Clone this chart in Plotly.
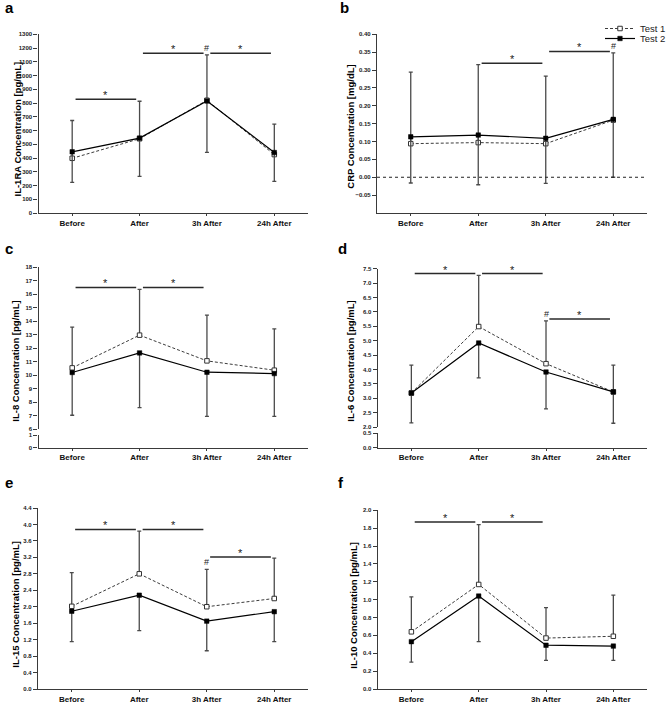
import plotly.graph_objects as go

# ---------------- data ----------------
categories = ["Before", "After", "3h After", "24h After"]

# a: IL-1RA [pg/mL]
il1ra_t1 = [398, 540, 820, 425]
il1ra_t2 = [445, 545, 815, 440]
il1ra_t1_sd = [275, 273, 330, 221]
il1ra_t2_sd = [222, 279, 374, 210]

# b: CRP [mg/dL]
crp_t1 = [0.094, 0.097, 0.094, 0.160]
crp_t2 = [0.113, 0.118, 0.109, 0.162]
crp_t1_sd = [0.200, 0.218, 0.189, 0.188]
crp_t2_sd = [0.129, 0.139, 0.126, 0.162]

# c: IL-8 [pg/mL]
il8_t1 = [10.54, 12.96, 11.06, 10.37]
il8_t2 = [10.20, 11.65, 10.22, 10.12]
il8_t1_sd = [3.02, 3.39, 3.38, 3.06]
il8_t2_sd = [3.16, 4.05, 3.26, 3.16]

# d: IL-6 [pg/mL]
il6_t1 = [3.18, 5.49, 4.20, 3.22]
il6_t2 = [3.18, 4.92, 3.91, 3.22]
il6_t1_sd = [0.97, 1.78, 1.49, 0.93]
il6_t2_sd = [1.04, 1.21, 1.28, 1.09]

# e: IL-15 [pg/mL]
il15_t1 = [2.01, 2.80, 2.00, 2.20]
il15_t2 = [1.89, 2.28, 1.65, 1.88]
il15_t1_sd = [0.82, 1.04, 0.91, 0.98]
il15_t2_sd = [0.74, 0.86, 0.72, 0.73]

# f: IL-10 [pg/mL]
il10_t1 = [0.64, 1.17, 0.57, 0.59]
il10_t2 = [0.53, 1.04, 0.49, 0.48]
il10_t1_sd = [0.39, 0.67, 0.34, 0.46]
il10_t2_sd = [0.23, 0.51, 0.17, 0.16]

# significance bars: (from index, to index, level); '#' markers: category index
il1ra_sig = [(0, 1, 828), (1, 2, 1162), (2, 3, 1162)]
il1ra_hash = [2]
crp_sig = [(1, 2, 0.319), (2, 3, 0.352)]
crp_hash = [3]
il8_sig = [(0, 1, 16.49), (1, 2, 16.49)]
il8_hash = []
il6_sig = [(0, 1, 7.33), (1, 2, 7.33), (2, 3, 5.75)]
il6_hash = [2]
il15_sig = [(0, 1, 3.88), (1, 2, 3.88), (2, 3, 3.21)]
il15_hash = [2]
il10_sig = [(0, 1, 1.87), (1, 2, 1.87)]
il10_hash = []

y_titles = ["IL-1RA Concentration [pg/mL]", "CRP Concentration [mg/dL]",
            "IL-8 Concentration [pg/mL]", "IL-6 Concentration [pg/mL]",
            "IL-15 Concentration [pg/mL]", "IL-10 Concentration [pg/mL]"]
panel_letters = ["a", "b", "c", "d", "e", "f"]

# ---------------- layout helpers ----------------
W, H = 669, 703
FONT = "Liberation Sans, Arial, sans-serif"
AX = "#3a3a3a"
EB = "#4a4a4a"


def xd(a, b):
    return [a / W, b / W]


def yd(top, bottom):
    return [1 - bottom / H, 1 - top / H]


panels = [
    dict(t1=il1ra_t1, t2=il1ra_t2, s1=il1ra_t1_sd, s2=il1ra_t2_sd, sig=il1ra_sig, hsh=il1ra_hash,
         xdom=(38.5, 308), ydom=(34.3, 213), yr=[0, 1300],
         tv=list(range(0, 1301, 100)), fmt="d", tit=(17, 129.5), lab=(3, 7.5)),
    dict(t1=crp_t1, t2=crp_t2, s1=crp_t1_sd, s2=crp_t2_sd, sig=crp_sig, hsh=crp_hash,
         xdom=(377, 647), ydom=(34.3, 213), yr=[-0.1, 0.4],
         tv=[round(-0.05 + 0.05 * i, 2) for i in range(10)], fmt=".2f", tit=(351, 126.7), lab=(338, 7.5)),
    dict(t1=il8_t1, t2=il8_t2, s1=il8_t1_sd, s2=il8_t2_sd, sig=il8_sig, hsh=il8_hash,
         xdom=(38.5, 308), ydom=(267, 429.3), yr=[6, 18],
         tv=list(range(6, 19)), fmt="d", tit=(16, 361.7), lab=(3, 248)),
    dict(t1=il6_t1, t2=il6_t2, s1=il6_t1_sd, s2=il6_t2_sd, sig=il6_sig, hsh=il6_hash,
         xdom=(377.7, 647), ydom=(268.7, 427), yr=[2, 7.5],
         tv=[2 + 0.5 * i for i in range(12)], fmt=".1f", tit=(351, 361.7), lab=(336, 248)),
    dict(t1=il15_t1, t2=il15_t2, s1=il15_t1_sd, s2=il15_t2_sd, sig=il15_sig, hsh=il15_hash,
         xdom=(38, 308), ydom=(508, 689), yr=[0, 4.4],
         tv=[round(0.4 * i, 1) for i in range(12)], fmt=".1f", tit=(16, 604.7), lab=(3, 482)),
    dict(t1=il10_t1, t2=il10_t2, s1=il10_t1_sd, s2=il10_t2_sd, sig=il10_sig, hsh=il10_hash,
         xdom=(377.7, 647), ydom=(510.3, 689), yr=[0, 2.0],
         tv=[round(0.2 * i, 1) for i in range(11)], fmt=".1f", tit=(354, 605.7), lab=(336, 482)),
]
# lower segments of the broken y axes (panels c and d)
panels[2]["brk"] = dict(dom=(435, 447.5), yr=[0, 1], tv=[0, 1], fmt="d")
panels[3]["brk"] = dict(dom=(433, 447.5), yr=[0, 0.5], tv=[0, 0.5], fmt=".1f")

fig = go.Figure()
layout = dict(
    width=W, height=H, margin=dict(l=0, r=0, t=0, b=0, autoexpand=False),
    paper_bgcolor="white", plot_bgcolor="white",
    font=dict(family=FONT, color="black"),
    showlegend=True,
)
shapes = []
annotations = []

ytick_font = dict(family=FONT, size=6, color="#222", weight="bold")
xtick_font = dict(family=FONT, size=8, color="#111", weight="bold")

for k, p in enumerate(panels):
    n = k + 1
    xs = "x" if n == 1 else f"x{n}"
    ys = "y" if n == 1 else f"y{n}"
    xkey = "xaxis" if n == 1 else f"xaxis{n}"
    ykey = "yaxis" if n == 1 else f"yaxis{n}"
    first = (k == 0)

    fig.add_trace(go.Scatter(
        x=categories, y=p["t1"], xaxis=xs, yaxis=ys, name="Test 1",
        mode="lines+markers", showlegend=first, legend="legend",
        line=dict(color="#3c3c3c", width=1, dash="3px,2px"),
        marker=dict(symbol="square", size=4.5, color="white",
                    line=dict(color="#333", width=1)),
        error_y=dict(type="data", symmetric=False, array=p["s1"],
                     arrayminus=[0] * len(p["s1"]), color=EB, thickness=1.3, width=2),
    ))
    fig.add_trace(go.Scatter(
        x=categories, y=p["t2"], xaxis=xs, yaxis=ys, name="Test 2",
        mode="lines+markers", showlegend=first, legend="legend2",
        line=dict(color="black", width=1.2),
        marker=dict(symbol="square", size=4.5, color="black",
                    line=dict(color="black", width=0.5)),
        error_y=dict(type="data", symmetric=False, array=[0] * len(p["s2"]),
                     arrayminus=p["s2"], color=EB, thickness=1.3, width=2),
    ))

    common_y = dict(showline=True, linecolor=AX, linewidth=1.3, ticks="outside",
                    ticklen=4, tickwidth=1, tickcolor=AX, showgrid=False,
                    zeroline=False, tickfont=ytick_font, fixedrange=True)

    layout[ykey] = dict(domain=yd(*p["ydom"]), range=p["yr"], anchor=xs,
                        tickvals=p["tv"], tickformat=p["fmt"], **common_y)

    x_anchor = ys
    if "brk" in p:
        bn = n + 4  # extra axis for the lower segment of broken axis
        bkey = f"yaxis{bn}"
        b = p["brk"]
        layout[bkey] = dict(domain=yd(*b["dom"]), range=b["yr"], anchor=xs,
                            tickvals=b["tv"], tickformat=b["fmt"], **common_y)
        x_anchor = f"y{bn}"
        # empty trace so the lower axis segment is created
        fig.add_trace(go.Scatter(x=[], y=[], xaxis=xs, yaxis=f"y{bn}",
                                 showlegend=False, hoverinfo="skip", mode="markers"))

    layout[xkey] = dict(domain=xd(*p["xdom"]), anchor=x_anchor, type="category",
                        categoryorder="array", categoryarray=categories,
                        range=[-0.5, 3.5], showline=True, linecolor=AX, linewidth=1.3,
                        ticks="outside", ticklen=2, tickwidth=1, tickcolor=AX,
                        showgrid=False, zeroline=False, tickfont=xtick_font,
                        fixedrange=True)

    # significance bars and stars
    for (i, j, lvl) in p["sig"]:
        shapes.append(dict(type="line", xref=xs, yref=ys, x0=i + 0.05, x1=j - 0.05,
                           y0=lvl, y1=lvl, line=dict(color="#2a2a2a", width=1.5)))
        annotations.append(dict(xref=xs, yref=ys, x=(i + j) / 2, y=lvl, text="*",
                                showarrow=False, yanchor="middle", yshift=4,
                                font=dict(family=FONT, size=11, color="#222")))
    for idx in p["hsh"]:
        annotations.append(dict(xref=xs, yref=ys, x=idx, y=p["t1"][idx] + p["s1"][idx],
                                text="#", showarrow=False, yanchor="bottom", yshift=0,
                                font=dict(family=FONT, size=9, color="#222")))

    # y-axis title
    tx, ty = p["tit"]
    annotations.append(dict(xref="paper", yref="paper", x=tx / W, y=1 - ty / H,
                            text=y_titles[k], textangle=-90, showarrow=False,
                            xanchor="center", yanchor="middle",
                            font=dict(family=FONT, size=9.5, color="black", weight="bold")))
    # panel letter
    lx, ly = p["lab"]
    annotations.append(dict(xref="paper", yref="paper", x=lx / W, y=1 - ly / H,
                            text=panel_letters[k], showarrow=False,
                            xanchor="left", yanchor="middle",
                            font=dict(family=FONT, size=15, color="black", weight="bold")))

# dotted zero reference line in panel b
shapes.append(dict(type="line", xref="x2 domain", yref="y2", x0=0, x1=1, y0=0, y1=0,
                   line=dict(color="#222", width=1, dash="dot")))

layout["shapes"] = shapes
layout["annotations"] = annotations
leg_common = dict(xanchor="left", yanchor="top", bgcolor="rgba(0,0,0,0)",
                  font=dict(family=FONT, size=9.5, color="#222"), itemwidth=30,
                  tracegroupgap=0)
layout["legend"] = dict(x=600 / W, y=1 - 14 / H, **leg_common)
layout["legend2"] = dict(x=600 / W, y=1 - 24 / H, **leg_common)

fig.update_layout(**layout)
fig.write_html("out.html", config={"displayModeBar": False},
               post_script="document.body.style.margin='0';document.body.style.overflow='hidden';")
